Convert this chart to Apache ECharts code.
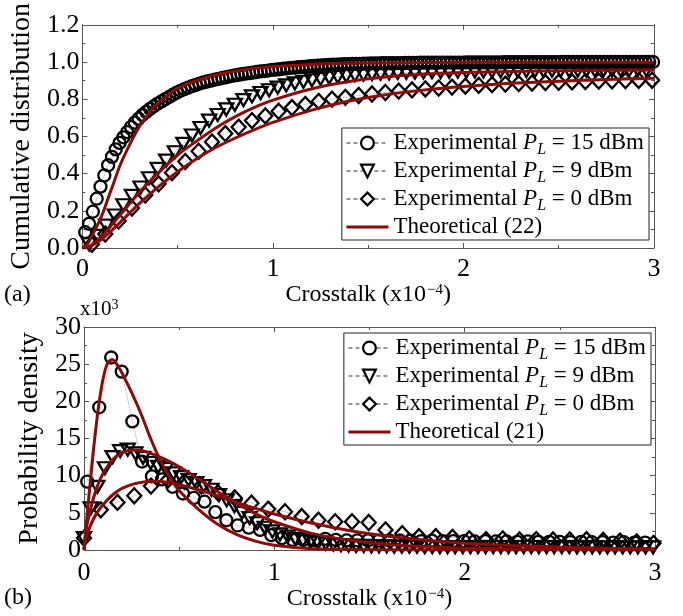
<!DOCTYPE html>
<html><head><meta charset="utf-8">
<script src="https://cdn.jsdelivr.net/npm/echarts@6/dist/echarts.min.js"></script>
<style>html,body{margin:0;padding:0;background:#fff}#c{width:683px;height:616px}</style>
</head><body><div id="c"></div>
<script>
// ---------- (a) cumulative distribution : experimental ----------
const cdfX15 = [0.015,0.035,0.055,0.075,0.095,0.115,0.135,0.155,0.175,0.195,
0.215,0.235,0.255,0.275,0.295,0.315,0.335,0.355,0.375,0.395,
0.415,0.435,0.455,0.475,0.495,0.515,0.535,0.555,0.575,0.595,
0.615,0.635,0.655,0.675,0.695,0.715,0.735,0.755,0.775,0.795,
0.815,0.835,0.855,0.875,0.895,0.915,0.935,0.955,0.975,0.995,
1.015,1.035,1.055,1.075,1.095,1.115,1.135,1.155,1.175,1.195,
1.215,1.235,1.255,1.275,1.295,1.315,1.335,1.355,1.375,1.395,
1.415,1.435,1.455,1.475,1.495,1.515,1.535,1.555,1.575,1.595,
1.615,1.635,1.655,1.675,1.695,1.715,1.735,1.755,1.775,1.795,
1.815,1.835,1.855,1.875,1.895,1.915,1.935,1.955,1.975,1.995,
2.015,2.035,2.055,2.075,2.095,2.115,2.135,2.155,2.175,2.195,
2.215,2.235,2.255,2.275,2.295,2.315,2.335,2.355,2.375,2.395,
2.415,2.435,2.455,2.475,2.495,2.515,2.535,2.555,2.575,2.595,
2.615,2.635,2.655,2.675,2.695,2.715,2.735,2.755,2.775,2.795,
2.815,2.835,2.855,2.875,2.895,2.915,2.935,2.955,2.975,2.995];
const cdfY15 = [0.085,0.13,0.195,0.265,0.33,0.39,0.445,0.49,0.53,0.565,
0.595,0.623,0.65,0.674,0.695,0.715,0.732,0.748,0.762,0.776,
0.788,0.8,0.812,0.824,0.835,0.845,0.854,0.862,0.87,0.877,
0.884,0.89,0.895,0.9,0.905,0.909,0.914,0.918,0.923,0.927,
0.93,0.934,0.937,0.94,0.943,0.946,0.949,0.951,0.954,0.957,
0.959,0.961,0.964,0.966,0.968,0.97,0.972,0.974,0.975,0.977,
0.979,0.98,0.982,0.983,0.984,0.985,0.986,0.987,0.988,0.988,
0.989,0.99,0.99,0.991,0.991,0.992,0.992,0.992,0.993,0.993,
0.993,0.994,0.994,0.994,0.995,0.995,0.995,0.995,0.996,0.996,
0.996,0.996,0.996,0.997,0.997,0.997,0.997,0.997,0.997,0.997,
0.998,0.998,0.998,0.998,0.998,0.998,0.998,0.998,0.998,0.998,
0.999,0.999,0.999,0.999,0.999,0.999,0.999,0.999,0.999,0.999,
0.999,0.999,0.999,0.999,0.999,1,1,1,1,1,
1,1,1,1,1,1,1,1,1,1,
1,1,1,1,1,1,1,1,1,1];
const cdfX9 = [0.035,0.08,0.125,0.17,0.215,0.26,0.305,0.35,0.395,0.44,0.485,0.53,0.575,0.62,0.665,0.71,0.755,0.8,0.845,0.89,0.935,0.98,1.025,1.07,1.115,1.16,1.205,1.25,1.295,1.34,1.385,1.43,1.475,1.52,1.565,1.61,1.655,1.7,1.745,1.79,1.835,1.88,1.925,1.97,2.015,2.06,2.105,2.15,2.195,2.24,2.285,2.33,2.375,2.42,2.465,2.51,2.555,2.6,2.645,2.69,2.735,2.78,2.825,2.87,2.915,2.96];
const cdfY9 = [0.02,0.065,0.12,0.175,0.23,0.28,0.325,0.375,0.425,0.47,0.515,0.56,0.605,0.645,0.685,0.715,0.745,0.77,0.795,0.815,0.833,0.848,0.862,0.874,0.885,0.894,0.902,0.909,0.915,0.92,0.925,0.929,0.932,0.935,0.937,0.939,0.941,0.942,0.943,0.944,0.945,0.946,0.947,0.948,0.948,0.949,0.949,0.95,0.95,0.951,0.951,0.952,0.952,0.952,0.953,0.953,0.953,0.954,0.954,0.954,0.955,0.955,0.955,0.956,0.956,0.956];
const cdfX0 = [0.05,0.12,0.19,0.26,0.33,0.4,0.47,0.54,0.61,0.68,0.75,0.82,0.89,0.96,1.03,1.1,1.17,1.24,1.31,1.38,1.45,1.52,1.59,1.66,1.73,1.8,1.87,1.94,2.01,2.08,2.15,2.22,2.29,2.36,2.43,2.5,2.57,2.64,2.71,2.78,2.85,2.92,2.99];
const cdfY0 = [0.02,0.075,0.145,0.215,0.285,0.345,0.405,0.465,0.52,0.57,0.615,0.65,0.685,0.71,0.735,0.755,0.772,0.788,0.8,0.81,0.82,0.828,0.836,0.843,0.85,0.855,0.86,0.865,0.87,0.874,0.878,0.881,0.884,0.887,0.889,0.891,0.893,0.895,0.897,0.899,0.9,0.901,0.902];
// ---------- (a) theoretical (22) ----------
const cdfThX = [0,0.025,0.05,0.1,0.15,0.2,0.25,0.3,0.35,0.4,0.5,0.6,0.7,0.8,0.9,1.0,1.2,1.4,1.6,1.8,2.0,2.25,2.5,2.75,3.0];
const cdfTh15 = [0,0.02,0.065,0.17,0.31,0.45,0.56,0.655,0.725,0.78,0.86,0.9,0.93,0.95,0.965,0.975,0.987,0.993,0.995,0.997,0.998,0.998,0.999,0.999,0.999];
const cdfTh9 = [0,0.004,0.016,0.06,0.12,0.18,0.24,0.3,0.355,0.405,0.5,0.575,0.645,0.705,0.755,0.795,0.855,0.895,0.92,0.935,0.943,0.949,0.953,0.955,0.957];
const cdfTh0 = [0,0.003,0.012,0.045,0.09,0.14,0.19,0.24,0.285,0.33,0.41,0.48,0.54,0.59,0.635,0.675,0.74,0.79,0.825,0.85,0.868,0.885,0.897,0.906,0.913];
// ---------- (b) probability density (x10^3) : experimental ----------
const pdfX15 = [0.017,0.08,0.143,0.198,0.254,0.305,0.357,0.41,0.465,0.52,0.577,0.633,0.69,0.748,0.807,0.866,0.925,0.984,1.04,1.097,1.153,1.21,1.267,1.323,1.38,1.436,1.492,1.548,1.604,1.66,1.716,1.772,1.828,1.884,1.94,1.996,2.052,2.108,2.164,2.22,2.276,2.332,2.388,2.444,2.5,2.556,2.612,2.668,2.724,2.78,2.836,2.892,2.948];
const pdfY15 = [9.2,19.2,25.9,24.0,17.3,11.9,9.9,9.5,8.5,7.6,7.0,6.5,5.1,4.0,3.3,3.0,2.7,2.0,1.6,1.35,1.35,1.35,1.5,1.35,1.3,1.3,1.3,1.25,1.3,1.25,1.25,1.2,1.25,1.2,1.2,1.2,1.15,1.2,1.15,1.15,1.1,1.15,1.1,1.1,1.1,1.05,1.1,1.05,1.05,1.0,1.05,1.0,1.0];
const pdfX9 = [0,0.035,0.07,0.11,0.15,0.19,0.23,0.27,0.31,0.35,0.39,0.43,0.47,0.51,0.55,0.59,0.63,0.67,0.71,0.75,0.79,0.83,0.87,0.91,0.95,0.99,1.03,1.07,1.11,1.15,1.19,1.23,1.27,1.31,1.35,1.39,1.43,1.47,1.51,1.55,1.59,1.63,1.67,1.71,1.75,1.79,1.83,1.87,1.91,1.95,1.99,2.03,2.07,2.11,2.15,2.19,2.23,2.27,2.31,2.35,2.39,2.43,2.47,2.51,2.55,2.59,2.63,2.67,2.71,2.75,2.79,2.83,2.87,2.91,2.95,2.99];
const pdfY9 = [1.6,5.6,8.5,11.0,12.5,13.3,13.5,13.0,12.4,11.7,11.2,10.9,10.3,9.8,9.4,9.0,8.6,8.1,7.4,6.7,5.9,5.0,4.3,3.6,3.0,2.5,2.1,1.8,1.5,1.3,1.1,0.95,0.85,0.75,0.65,0.6,0.55,0.55,0.5,0.5,0.5,0.45,0.45,0.45,0.45,0.4,0.4,0.4,0.4,0.4,0.4,0.4,0.4,0.4,0.4,0.4,0.4,0.4,0.4,0.4,0.4,0.4,0.4,0.4,0.4,0.35,0.35,0.35,0.35,0.35,0.35,0.35,0.35,0.35,0.35,0.35];
const pdfX0 = [0,0.088,0.176,0.264,0.352,0.44,0.528,0.616,0.704,0.792,0.88,0.968,1.056,1.144,1.232,1.32,1.408,1.496,1.584,1.672,1.76,1.848,1.936,2.024,2.112,2.2,2.288,2.376,2.464,2.552,2.64,2.728,2.816,2.904,2.992];
const pdfY0 = [1.6,5.4,6.4,7.3,8.6,9.4,9.2,8.6,7.7,7.0,6.3,5.5,5.15,4.5,4.0,3.8,3.8,3.7,2.7,2.2,1.8,1.8,1.7,1.5,1.4,1.5,1.35,1.4,1.35,1.35,1.4,1.3,1.2,1.1,0.9];
// ---------- (b) theoretical (21) ----------
const pdfThX = [0,0.01,0.025,0.05,0.075,0.1,0.125,0.15,0.175,0.2,0.25,0.3,0.35,0.4,0.45,0.5,0.6,0.7,0.8,0.9,1.0,1.2,1.4,1.6,1.8,2.0,2.25,2.5,2.75,3.0];
const pdfTh15 = [0,3,7,13.5,19,23,25.2,25.6,24.9,23.8,21.2,18.3,15.0,12.1,9.8,8.0,5.5,3.5,2.1,1.2,0.65,0.17,0.04,0.01,0,0,0,0,0,0];
const pdfTh9 = [0,2.5,4.5,7,8.9,10.3,11.3,12.1,12.7,13.1,13.45,13.4,13.0,12.5,11.9,11.2,9.6,7.9,6.3,4.9,3.8,2.2,1.3,0.75,0.45,0.28,0.15,0.08,0.05,0.03];
const pdfTh0 = [0,1.5,2.7,4.2,5.3,6.1,6.8,7.4,7.9,8.3,8.8,9.1,9.25,9.2,9.05,8.8,8.1,7.3,6.4,5.6,4.85,3.6,2.6,1.85,1.3,0.9,0.6,0.4,0.25,0.17];
// ---------- tick labels / texts ----------
const xTicks = [0,1,2,3];
const cdfTicks = ['0.0','0.2','0.4','0.6','0.8','1.0','1.2'];
const pdfTicks = ['0','5','10','15','20','25','30'];
const legendTextA = {
  a15:'{t|Experimental }{i|P}{s|L}{t| = 15 dBm}',
  a9:'{t|Experimental }{i|P}{s|L}{t| = 9 dBm}',
  a0:'{t|Experimental }{i|P}{s|L}{t| = 0 dBm}',
  a22:'{t|Theoretical (22)}'
};
const legendTextB = {
  b15:'{t|Experimental }{i|P}{s|L}{t| = 15 dBm}',
  b9:'{t|Experimental }{i|P}{s|L}{t| = 9 dBm}',
  b0:'{t|Experimental }{i|P}{s|L}{t| = 0 dBm}',
  b21:'{t|Theoretical (21)}'
};

const FONT = '"Liberation Serif","Times New Roman",serif';
const AX = '#555';
const RED = '#8b0a0a';
function zip(xs, ys){ const n=Math.min(xs.length,ys.length); const o=[]; for(let i=0;i<n;i++) o.push([xs[i],ys[i]]); return o; }

const legRich = {
  t:{fontFamily:FONT,fontSize:23,color:'#000',lineHeight:24,verticalAlign:'top'},
  i:{fontFamily:FONT,fontSize:23,fontStyle:'italic',color:'#000',lineHeight:24,verticalAlign:'top'},
  s:{fontFamily:FONT,fontSize:16,fontStyle:'italic',color:'#000',lineHeight:16,padding:[11,0,0,0],verticalAlign:'top'}
};
const nameRich = {
  t:{fontFamily:FONT,fontSize:24,color:'#000',lineHeight:26,verticalAlign:'top'},
  sup:{fontFamily:FONT,fontSize:15,color:'#000',lineHeight:15,verticalAlign:'top',padding:[0,0,0,1]}
};

function xAxisDef(g, pos){
  const main = pos==='bottom';
  return {
    gridIndex:g, type:'value', min:0, max:3, interval:1, position:pos,
    axisLine:{show:true,onZero:false,lineStyle:{color:AX,width:1}},
    axisTick:{show:true,inside:true,length:5,lineStyle:{color:AX}},
    minorTick:{show:true,splitNumber:2,length:3,lineStyle:{color:AX}},
    splitLine:{show:false}, minorSplitLine:{show:false},
    axisLabel:{show:main,fontFamily:FONT,fontSize:26,color:'#000',margin:g===0?8:10,
      formatter:v=>String(xTicks[Math.round(v)])},
    name: main ? '{t|Crosstalk (x10}{sup|−4}{t|)}' : '',
    nameLocation:'middle', nameGap: g===0?35:34,
    nameTextStyle:{rich:nameRich}
  };
}
function yAxisDef(g, pos, max, interval, labels, name, gap){
  const main = pos==='left';
  return {
    gridIndex:g, type:'value', min:0, max:max, interval:interval, position:pos,
    axisLine:{show:true,onZero:false,lineStyle:{color:AX,width:1}},
    axisTick:{show:true,inside:true,length:5,lineStyle:{color:AX}},
    minorTick:{show:true,splitNumber:2,length:3,lineStyle:{color:AX}},
    splitLine:{show:false}, minorSplitLine:{show:false},
    axisLabel:{show:main,fontFamily:FONT,fontSize:26,color:'#000',margin:3,
      formatter:v=>labels[Math.round(v/interval)]},
    name: main ? name : '', nameLocation:'middle', nameGap:gap,
    nameTextStyle:{fontFamily:FONT,fontSize:28,color:'#000'}
  };
}

function expSeries(name, xi, yi, xs, ys, sym, size, rot){
  return {
    name:name, type:'line', xAxisIndex:xi, yAxisIndex:yi, data:zip(xs,ys),
    symbol:sym, symbolSize:size, symbolRotate:rot||0, showSymbol:true,
    itemStyle:{color:'rgba(255,255,255,0)',borderColor:'#000',borderWidth:2.3},
    lineStyle:{color:'#888',width:0.8,type:'dotted'},
    emphasis:{disabled:true}, animation:false, z:2
  };
}
function thSeries(name, xi, yi, xs, ys){
  return {
    name:name, type:'line', xAxisIndex:xi, yAxisIndex:yi, data:zip(xs,ys),
    symbol:'none', smooth:0.3,
    lineStyle:{color:RED,width:3}, itemStyle:{color:RED},
    emphasis:{disabled:true}, animation:false, z:3
  };
}
const legLine = {color:'#333',width:1.2,type:[4,3]};
function legendDef(top, right, names, texts){
  return {
    orient:'vertical', top:top, right:right, itemWidth:42, itemHeight:16, itemGap:1,
    backgroundColor:'#fff', borderColor:'#222', borderWidth:1, padding:[3,5,2,4],
    selectedMode:false,
    data: names.map((n,i)=> i<3
      ? {name:n, lineStyle:legLine, itemStyle:{color:'#fff',borderColor:'#000',borderWidth:2.2}}
      : {name:n, icon:'path://M0,0 L40,0 L40,3 L0,3 Z', itemStyle:{color:RED}}),
    formatter: n=>texts[n], textStyle:{rich:legRich}
  };
}

const option = {
  backgroundColor:'#fff',
  animation:false,
  grid:[
    {left:81, top:23, width:573, height:225, containLabel:false},
    {left:84, top:327, width:571, height:223, containLabel:false}
  ],
  xAxis:[ xAxisDef(0,'bottom'), xAxisDef(0,'top'), xAxisDef(1,'bottom'), xAxisDef(1,'top') ],
  yAxis:[
    yAxisDef(0,'left',1.2,0.2,cdfTicks,'Cumulative distribution',35),
    yAxisDef(0,'right',1.2,0.2,cdfTicks,'',0),
    yAxisDef(1,'left',30,5,pdfTicks,'Probability density',37),
    yAxisDef(1,'right',30,5,pdfTicks,'',0)
  ],
  legend:[
    legendDef(128, 34, ['a15','a9','a0','a22'], legendTextA),
    legendDef(333, 32, ['b15','b9','b0','b21'], legendTextB)
  ],
  graphic:[
    {type:'text', left:4, top:283, style:{text:'(a)', font:'24px '+FONT, fill:'#000'}},
    {type:'text', left:4, top:586, style:{text:'(b)', font:'24px '+FONT, fill:'#000'}},
    {type:'text', left:80, top:298, style:{text:'{t|x10}{s|3}', rich:{t:{fontFamily:FONT,fontSize:21,lineHeight:22,verticalAlign:'bottom'},s:{fontFamily:FONT,fontSize:14,lineHeight:14,verticalAlign:'top'}}}}
  ],
  series:[
    expSeries('a15',0,0,cdfX15,cdfY15,'circle',12),
    expSeries('a9',0,0,cdfX9,cdfY9,'triangle',[14,12],180),
    expSeries('a0',0,0,cdfX0,cdfY0,'diamond',[14,15]),
    thSeries('a22',0,0,cdfThX,cdfTh15),
    thSeries('a22',0,0,cdfThX,cdfTh9),
    thSeries('a22',0,0,cdfThX,cdfTh0),
    expSeries('b15',2,2,pdfX15,pdfY15,'circle',12),
    expSeries('b9',2,2,pdfX9,pdfY9,'triangle',[14,12],180),
    expSeries('b0',2,2,pdfX0,pdfY0,'diamond',[14,15]),
    thSeries('b21',2,2,pdfThX,pdfTh15),
    thSeries('b21',2,2,pdfThX,pdfTh9),
    thSeries('b21',2,2,pdfThX,pdfTh0)
  ]
};
const chart = echarts.init(document.getElementById('c'));
chart.setOption(option);
</script>
</body></html>
